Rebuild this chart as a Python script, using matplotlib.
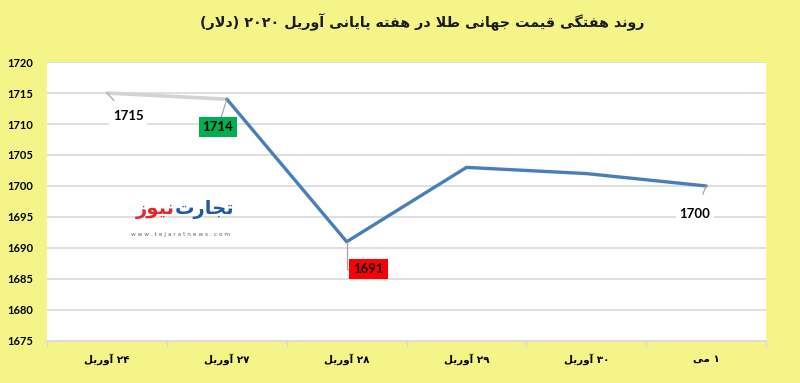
import re
import matplotlib
matplotlib.use("Agg")
import matplotlib.pyplot as plt

# data
day_nums = ["۲۴", "۲۷", "۲۸", "۲۹", "۳۰", "۱"]
months = ["آوریل", "آوریل", "آوریل", "آوریل", "آوریل", "می"]
prices = [1715, 1714, 1691, 1703, 1702, 1700]
title = "روند هفتگی قیمت جهانی طلا در هفته پایانی آوریل ۲۰۲۰ (دلار)"
yticks = [1675, 1680, 1685, 1690, 1695, 1700, 1705, 1710, 1715, 1720]

# simple persian shaping (matplotlib has no arabic text layout)
FORMS = {
    '\u0622': (0xFE81, 0xFE82, None, None),
    '\u0627': (0xFE8D, 0xFE8E, None, None),
    '\u0628': (0xFE8F, 0xFE90, 0xFE91, 0xFE92),
    '\u067E': (0xFB56, 0xFB57, 0xFB58, 0xFB59),
    '\u062A': (0xFE95, 0xFE96, 0xFE97, 0xFE98),
    '\u062C': (0xFE9D, 0xFE9E, 0xFE9F, 0xFEA0),
    '\u062F': (0xFEA9, 0xFEAA, None, None),
    '\u0631': (0xFEAD, 0xFEAE, None, None),
    '\u0632': (0xFEAF, 0xFEB0, None, None),
    '\u0637': (0xFEC1, 0xFEC2, 0xFEC3, 0xFEC4),
    '\u0641': (0xFED1, 0xFED2, 0xFED3, 0xFED4),
    '\u0642': (0xFED5, 0xFED6, 0xFED7, 0xFED8),
    '\u06AF': (0xFB92, 0xFB93, 0xFB94, 0xFB95),
    '\u0644': (0xFEDD, 0xFEDE, 0xFEDF, 0xFEE0),
    '\u0645': (0xFEE1, 0xFEE2, 0xFEE3, 0xFEE4),
    '\u0646': (0xFEE5, 0xFEE6, 0xFEE7, 0xFEE8),
    '\u0647': (0xFEE9, 0xFEEA, 0xFEEB, 0xFEEC),
    '\u0648': (0xFEED, 0xFEEE, None, None),
    '\u06CC': (0xFBFC, 0xFBFD, 0xFBFE, 0xFBFF),
}
DIGITS = r'[0-9A-Za-z.\u0660-\u0669\u06F0-\u06F9]+'


def shape(s):
    s = s.replace('\u064A', '\u06CC')
    out = []
    prev = False
    i = 0
    while i < len(s):
        c = s[i]
        if c not in FORMS:
            out.append(c)
            prev = False
            i += 1
            continue
        if c == '\u0644' and i + 1 < len(s) and s[i + 1] in ('\u0627', '\u0622'):
            lig = (0xFEFB, 0xFEFC) if s[i + 1] == '\u0627' else (0xFEF5, 0xFEF6)
            out.append(chr(lig[1] if prev else lig[0]))
            prev = False
            i += 2
            continue
        f = FORMS[c]
        nxt = f[2] is not None and i + 1 < len(s) and s[i + 1] in FORMS
        if prev and nxt:
            g = f[3]
        elif prev:
            g = f[1]
        elif nxt:
            g = f[2]
        else:
            g = f[0]
        out.append(chr(g))
        prev = nxt
        i += 1
    return ''.join(out)


def rtl(s):
    t = shape(s)[::-1]
    t = re.sub(DIGITS, lambda m: m.group(0)[::-1], t)
    return t.translate({ord('('): ')', ord(')'): '('})


BG = '#F4F488'
fig = plt.figure(figsize=(8, 3.83), dpi=100, facecolor=BG)
ax = fig.add_axes([0.059, 0.110, 0.8985, 0.728])
ax.set_facecolor('white')

x = list(range(len(prices)))
ax.plot(x[:2], prices[:2], color='#D3D3D3', lw=2.6, solid_capstyle='round', zorder=3)
ax.plot(x[1:], prices[1:], color='#4A7EBB', lw=2.4, solid_capstyle='round', zorder=3)

ax.set_xlim(-0.5, len(prices) - 0.5)
ax.set_ylim(1675, 1720)
ax.set_yticks(yticks)
ax.set_yticklabels([str(v) for v in yticks], fontsize=8, fontweight='bold', family='Lato')
ax.grid(axis='y', color='#D9D9D9', lw=1.2, zorder=0)
ax.tick_params(axis='y', length=0, pad=10)
for s in ax.spines.values():
    s.set_visible(False)
ax.spines['bottom'].set_visible(True)
ax.spines['bottom'].set_color('#D9D9D9')
ax.spines['bottom'].set_linewidth(1.2)

# right-to-left: month name on the left, day number on the right
xlabels = [shape(m)[::-1] + " " + n for n, m in zip(day_nums, months)]
ax.set_xticks(x)
ax.set_xticklabels(xlabels, fontsize=7.5, fontweight='bold', family='DejaVu Sans')
ax.tick_params(axis='x', length=0, pad=9)
ax.set_xticks([i + 0.5 for i in range(-1, len(prices))], minor=True)
ax.tick_params(axis='x', which='minor', length=4, color='#D9D9D9', width=1)

fig.text(0.528, 0.942, rtl(title), ha='center', va='center', fontsize=10.3,
         fontweight='bold', family='DejaVu Sans', color='#1A1A1A')

# data labels
lbl = dict(fontsize=9.5, fontweight='bold', family='Lato', ha='center', va='center', zorder=5)
arrow = dict(arrowstyle='-', color='#A6A6A6', lw=0.9, shrinkA=6, shrinkB=0)
ax.annotate(str(prices[0]), (x[0], prices[0]), xytext=(21, -23), textcoords='offset pixels',
            bbox=dict(boxstyle='square,pad=0.25', fc='white', ec='none'),
            arrowprops=arrow, **lbl)
ax.annotate(str(prices[1]), (x[1], prices[1]), xytext=(-9, -28), textcoords='offset pixels',
            bbox=dict(boxstyle='square,pad=0.3', fc='#00B050', ec='none'),
            arrowprops=dict(arrow, shrinkA=0), **lbl)
ax.annotate(str(prices[2]), (x[2], prices[2]), xytext=(22, -27), textcoords='offset pixels',
            bbox=dict(boxstyle='square,pad=0.3', fc='#FF0000', ec='none'),
            arrowprops=dict(arrow, shrinkA=0, connectionstyle='angle,angleA=180,angleB=90,rad=0'),
            **lbl)
ax.annotate(str(prices[5]), (x[5], prices[5]), xytext=(-11, -28), textcoords='offset pixels',
            bbox=dict(boxstyle='square,pad=0.25', fc='white', ec='none'),
            arrowprops=dict(arrow, shrinkA=8), **lbl)

# watermark logo
ax.text(0.18, 0.44, ' ' * 36, transform=ax.transAxes, fontsize=8,
        bbox=dict(boxstyle='square,pad=1.0', fc='white', ec='none'), ha='center', va='center', zorder=1)
ax.text(0.178, 0.47, rtl("نیوز"), transform=ax.transAxes, ha='right', va='center',
        fontsize=14, fontweight='bold', color='#E3262A', family='DejaVu Sans', zorder=2)
ax.text(0.178, 0.47, rtl("تجارت"), transform=ax.transAxes, ha='left', va='center',
        fontsize=14, fontweight='bold', color='#1F5AA6', family='DejaVu Sans', zorder=2)
ax.text(0.186, 0.38, "w w w . t e j a r a t n e w s . c o m", transform=ax.transAxes,
        ha='center', va='center', fontsize=4.2, color='#666666', zorder=2)

fig.savefig('out.png', dpi=100, facecolor=BG)
